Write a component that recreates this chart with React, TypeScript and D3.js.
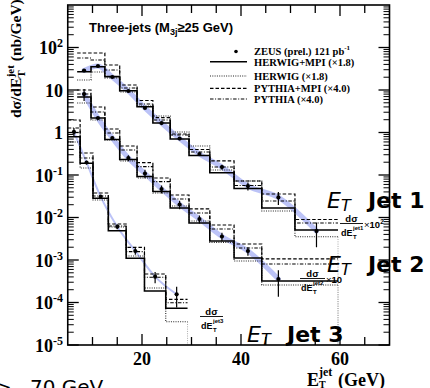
import React from 'react';
import * as d3 from 'd3';

const W = 430;
const H = 388;
const plot = { left: 67.75, right: 389.5, top: 5, bottom: 345 };

const xDomain = [5, 70];
const yDomain = [1e-5, 1e3];
const xTickValues = [10, 15, 20, 25, 30, 35, 40, 45, 50, 55, 60, 65];
const xMajorTicks = [20, 40, 60];
const yTickExponents = [2, 1, 0, -1, -2, -3, -4, -5];

// Bin edges (GeV)
const jet12Edges = [6.9, 9.7, 12.5, 15.5, 19.0, 22.2, 25.7, 29.5, 33.7, 38.6, 44.2, 50.9, 59.6];
const jet3Edges = [5.0, 7.5, 10.1, 13.2, 16.8, 20.5, 24.8, 29.2];

// Jet 1 (x10^2)
const jet1Data = [28.8, 36.7, 20.2, 9.47, 3.77, 1.67, 0.72, 0.312, 0.154, 0.055, 0.0296, 0.0048];
const jet1Err = [1.0, 1.3, 0.7, 0.35, 0.15, 0.07, 0.04, 0.025, 0.02, 0.012, 0.01, 0.0028];
const jet1HerwigMpi = [26.9, 35.3, 20.6, 9.63, 4.05, 1.67, 0.703, 0.288, 0.113, 0.0481, 0.0167, 0.00508];
const jet1Herwig = [17.2, 26.5, 19.2, 8.97, 4.2, 2.44, 1.03, 0.481, 0.131, 0.0722, 0.0142, 0.00353];
const jet1PythiaMpi = [74.2, 74.2, 38.7, 13.1, 5.66, 2.25, 0.922, 0.398, 0.214, 0.0722, 0.0357, 0.00897];
const jet1Pythia = [56.6, 50.8, 29.6, 11.1, 4.69, 1.97, 0.873, 0.348, 0.154, 0.0566, 0.0244, 0.00742];

// Jet 2 (x10)
const jet2Data = [8.0, 2.19, 0.742, 0.251, 0.1084, 0.0468, 0.0202, 0.00922, 0.00357, 0.00163, 0.000357];
const jet2Err = [2.5, 0.15, 0.06, 0.04, 0.024, 0.01, 0.0045, 0.002, 0.0008, 0.00037, 0.00022];
const jet2HerwigMpi = [6.84, 2.19, 0.684, 0.232, 0.0922, 0.0409, 0.0167, 0.00742, 0.0028, 0.00111, 0.00032];
const jet2Herwig = [4.94, 1.97, 0.666, 0.214, 0.085, 0.0377, 0.0187, 0.00827, 0.0026, 0.000947, 0.000258];
const jet2PythiaMpi = [10.0, 3.98, 1.21, 0.481, 0.195, 0.085, 0.0338, 0.0159, 0.00666, 0.00238, 0.00106];
const jet2Pythia = [8.05, 3.04, 0.973, 0.388, 0.157, 0.0697, 0.0272, 0.0128, 0.00536, 0.00192, 0.000805];

// Jet 3
const jet3Data = [1.03, 0.197, 0.0309, 0.00608, 0.00163, 0.000405, 0.000156];
const jet3Err = [0.25, 0.02, 0.003, 0.0008, 0.0003, 0.00012, 0.00008];
const jet3HerwigMpi = [0.794, 0.1885, 0.0283, 0.00489, 0.0011, 0.000187, 0.0000734];
const jet3Herwig = [0.598, 0.146, 0.0258, 0.00598, 0.00124, 0.000219, 0.0000353];
const jet3PythiaMpi = [1.97, 0.329, 0.0377, 0.00703, 0.00199, 0.000469, 0.000119];
const jet3Pythia = [1.276, 0.251, 0.0321, 0.00631, 0.00157, 0.000392, 0.0000989];

const legendLabels = ['ZEUS (prel.) 121 pb', 'HERWIG+MPI (\u00d71.8)', 'HERWIG (\u00d71.8)', 'PYTHIA+MPI (\u00d74.0)', 'PYTHIA (\u00d74.0)'];

const jets = [
  { edges: jet12Edges, data: jet1Data, err: jet1Err, hm: jet1HerwigMpi, h: jet1Herwig, pm: jet1PythiaMpi, p: jet1Pythia, band: 5 },
  { edges: jet12Edges, data: jet2Data, err: jet2Err, hm: jet2HerwigMpi, h: jet2Herwig, pm: jet2PythiaMpi, p: jet2Pythia, band: 5 },
  { edges: jet3Edges, data: jet3Data, err: jet3Err, hm: jet3HerwigMpi, h: jet3Herwig, pm: jet3PythiaMpi, p: jet3Pythia, band: 2 },
];

const styles = {
  hm: { w: 1.6, dash: undefined as string | undefined, c: '#000' },
  h: { w: 1.1, dash: '1 1.3', c: '#222' },
  pm: { w: 1.2, dash: '3.5 2', c: '#000' },
  p: { w: 1.1, dash: '3.5 1.6 1 1.6', c: '#000' },
};

const serif = '"Liberation Serif", "Times New Roman", serif';
const sans = '"Liberation Sans", Arial, sans-serif';
const dejavu = '"DejaVu Sans", sans-serif';

export default function App() {
  const x = d3.scaleLinear().domain(xDomain).range([plot.left, plot.right]);
  const y = d3.scaleLog().domain(yDomain).range([plot.bottom, plot.top]);

  const stepPath = (edges: number[], vals: number[]) => {
    const pts: [number, number][] = vals.map((v, i) => [x(edges[i]), y(v)] as [number, number]);
    pts.push([x(edges[edges.length - 1]), y(vals[vals.length - 1])]);
    return d3.line().curve(d3.curveStepAfter)(pts) || '';
  };
  const bandLine = d3.line().curve(d3.curveMonotoneX);

  const minorY: number[] = [];
  for (let k = -5; k <= 2; k++) {
    for (let m = 2; m <= 9; m++) minorY.push(m * Math.pow(10, k));
  }

  const order: ('h' | 'p' | 'pm' | 'hm')[] = ['h', 'p', 'pm', 'hm'];

  return (
    <svg width={W} height={H} style={{ position: 'absolute', left: 0, top: 0, display: 'block', background: '#fff' }}>
      <defs>
        <clipPath id="plotclip">
          <rect x={plot.left} y={plot.top} width={plot.right - plot.left} height={plot.bottom - plot.top} />
        </clipPath>
      </defs>
      <rect x={0} y={0} width={W} height={H} fill="#fff" />

      <g clipPath="url(#plotclip)">
        {jets.map((j, ji) => {
          const centers = j.data.map((_, i) => (j.edges[i] + j.edges[i + 1]) / 2);
          const pts = j.data.map((v, i) => [x(centers[i]), y(v)] as [number, number]);
          return (
            <path key={'band' + ji} d={bandLine(pts) || ''} fill="none" stroke="#8f9bf2" strokeOpacity={0.6} strokeWidth={j.band} strokeLinecap="round" />
          );
        })}
        {jets.map((j, ji) => (
          <line key={'drop' + ji} x1={x(j.edges[j.edges.length - 1])} x2={x(j.edges[j.edges.length - 1])}
            y1={y(j.h[j.h.length - 1])} y2={plot.bottom} stroke="#aaa" strokeWidth={1} strokeDasharray="1 1.3" />
        ))}
        {jets.map((j, ji) =>
          order.map((key) => {
            const s = styles[key];
            return (
              <path key={ji + key} d={stepPath(j.edges, (j as any)[key])} fill="none" stroke={s.c}
                strokeWidth={s.w} strokeDasharray={s.dash} />
            );
          })
        )}
        {jets.map((j, ji) =>
          j.data.map((v, i) => {
            const cx = x((j.edges[i] + j.edges[i + 1]) / 2);
            const lo = v - j.err[i] > 0 ? y(v - j.err[i]) : plot.bottom;
            return (
              <g key={'pt' + ji + '-' + i}>
                <line x1={cx} x2={cx} y1={y(v + j.err[i])} y2={lo} stroke="#000" strokeWidth={1.2} />
                <circle cx={cx} cy={y(v)} r={2.1} fill="#000" />
              </g>
            );
          })
        )}
      </g>

      {/* frame */}
      <rect x={plot.left} y={plot.top} width={plot.right - plot.left} height={plot.bottom - plot.top} fill="none" stroke="#000" strokeWidth={1.6} />

      {/* x ticks */}
      {xTickValues.map((t) => {
        const major = xMajorTicks.includes(t);
        const len = major ? 11 : 8;
        return (
          <g key={'xt' + t}>
            <line x1={x(t)} x2={x(t)} y1={plot.bottom} y2={plot.bottom - len} stroke="#000" strokeWidth={1.3} />
            <line x1={x(t)} x2={x(t)} y1={plot.top} y2={plot.top + len} stroke="#000" strokeWidth={1.3} />
          </g>
        );
      })}
      {xMajorTicks.map((t) => (
        <text key={'xl' + t} x={x(t)} y={365} textAnchor="middle" fontFamily={serif} fontWeight="bold" fontSize={18}>{t}</text>
      ))}

      {/* y ticks */}
      {yTickExponents.map((e) => {
        const v = Math.pow(10, e);
        return (
          <g key={'yt' + e}>
            <line x1={plot.left} x2={plot.left + 11} y1={y(v)} y2={y(v)} stroke="#000" strokeWidth={1.3} />
            <line x1={plot.right} x2={plot.right - 11} y1={y(v)} y2={y(v)} stroke="#000" strokeWidth={1.3} />
          </g>
        );
      })}
      {minorY.map((v, i) => (
        <g key={'ym' + i}>
          <line x1={plot.left} x2={plot.left + 6} y1={y(v)} y2={y(v)} stroke="#000" strokeWidth={1} />
          <line x1={plot.right} x2={plot.right - 6} y1={y(v)} y2={y(v)} stroke="#000" strokeWidth={1} />
        </g>
      ))}
      {yTickExponents.map((e) => {
        const yy = y(Math.pow(10, e));
        return (
          <text key={'yl' + e} x={63} y={yy + 6.5} textAnchor="end" fontFamily={serif} fontWeight="bold" fontSize={18}>
            {e === 0 ? '1' : e === 1 ? '10' : (
              <>
                <tspan>10</tspan>
                <tspan fontSize={12} dy={-7}>{e < 0 ? '-' + Math.abs(e) : String(e)}</tspan>
              </>
            )}
          </text>
        );
      })}

      {/* y-axis title */}
      <g transform="translate(21,118) rotate(-90)">
        <text x={0} y={0} fontFamily={serif} fontWeight="bold" fontSize={15.5}>
          <tspan>d{'\u03c3'}/dE</tspan>
          <tspan fontSize={11} dy={4}>T</tspan>
          <tspan fontSize={11} dx={-7} dy={-11}>jet</tspan>
          <tspan fontSize={15.5} dy={7}> (nb/GeV)</tspan>
        </text>
      </g>

      {/* x-axis title */}
      <text x={307} y={385.5} fontFamily={serif} fontWeight="bold" fontSize={18}>E</text>
      <text x={319} y={376} fontFamily={serif} fontWeight="bold" fontSize={12}>jet</text>
      <text x={319} y={388} fontFamily={serif} fontWeight="bold" fontSize={10}>T</text>
      <text x={338} y={385.5} fontFamily={serif} fontWeight="bold" fontSize={18}>(GeV)</text>

      {/* header */}
      <text x={89} y={32} fontFamily={sans} fontWeight="bold" fontSize={13}>
        <tspan>Three-jets (M</tspan>
        <tspan fontSize={9} dy={3}>3j</tspan>
        <tspan dy={-3}>{'\u226525 GeV)'}</tspan>
      </text>

      {/* legend */}
      <circle cx={236} cy={51.5} r={1.8} fill="#000" />
      <text x={254} y={55} fontFamily={serif} fontWeight="bold" fontSize={10.5}>
        <tspan>{legendLabels[0]}</tspan>
        <tspan fontSize={7} dy={-5}>-1</tspan>
      </text>
      {(['hm', 'h', 'pm', 'p'] as const).map((key, i) => {
        const ly = [61.7, 76, 88.3, 99][i];
        const ty = [65.7, 80, 91.7, 102.7][i];
        const s = styles[key];
        return (
          <g key={'leg' + key}>
            <line x1={210} x2={247} y1={ly} y2={ly} stroke={s.c} strokeWidth={s.w} strokeDasharray={s.dash} />
            <text x={254} y={ty} fontFamily={serif} fontWeight="bold" fontSize={10.5}>{legendLabels[i + 1]}</text>
          </g>
        );
      })}

      {/* Jet labels */}
      <text x={327} y={208} fontFamily={dejavu} fontSize={22}>
        <tspan fontStyle="italic">E</tspan>
        <tspan fontStyle="italic" fontSize={16} dy={3}>T</tspan>
      </text>
      <text x={368} y={208} fontFamily={dejavu} fontWeight="bold" fontSize={22}>Jet 1</text>
      <text x={327} y={272} fontFamily={dejavu} fontSize={22}>
        <tspan fontStyle="italic">E</tspan>
        <tspan fontStyle="italic" fontSize={16} dy={3}>T</tspan>
      </text>
      <text x={368} y={272} fontFamily={dejavu} fontWeight="bold" fontSize={22}>Jet 2</text>
      <text x={247} y={342} fontFamily={dejavu} fontSize={22}>
        <tspan fontStyle="italic">E</tspan>
        <tspan fontStyle="italic" fontSize={16} dy={3}>T</tspan>
      </text>
      <text x={287} y={342} fontFamily={dejavu} fontWeight="bold" fontSize={22}>Jet 3</text>

      {/* fractions */}
      {[
        { x0: 340, x1: 363, yb: 223.5, sup: 'jet1', fac: '2' },
        { x0: 300, x1: 325, yb: 278.5, sup: 'jet2', fac: '' },
        { x0: 200, x1: 223, yb: 316.5, sup: 'jet3', fac: null as string | null },
      ].map((f, i) => (
        <g key={'frac' + i} fontFamily={sans} fontWeight="bold">
          <text x={(f.x0 + f.x1) / 2} y={f.yb - 2} textAnchor="middle" fontSize={9.5}>d{'\u03c3'}</text>
          <line x1={f.x0} x2={f.x1} y1={f.yb} y2={f.yb} stroke="#000" strokeWidth={0.9} />
          <text x={f.x0 + 1} y={f.yb + 12.5} fontSize={9}>dE</text>
          <text x={f.x0 + 13} y={f.yb + 6.5} fontSize={6}>{f.sup}</text>
          <text x={f.x0 + 13} y={f.yb + 15} fontSize={6}>T</text>
          {f.fac !== null && (
            <text x={f.x1 + 1} y={f.yb + 4} fontSize={9.5} fontWeight="normal">
              <tspan>{'\u00d7'}</tspan>
              <tspan fontWeight="bold">10</tspan>
              {f.fac && <tspan fontSize={6.5} dy={-4} fontWeight="bold">{f.fac}</tspan>}
            </text>
          )}
        </g>
      ))}

      {/* cut-off caption at bottom */}
      <text y={394} fontFamily={dejavu} fontSize={20}>
        <tspan x={-5}>{'>'}</tspan>
        <tspan x={30}>70 GeV</tspan>
      </text>
    </svg>
  );
}
